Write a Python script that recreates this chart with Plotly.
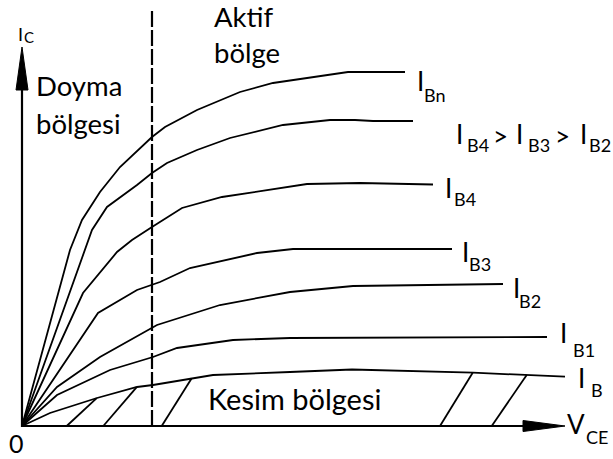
import plotly.graph_objects as go
import numpy as np

# ---- data (V_CE, I_C in arbitrary units; origin at 0,0) ----
vce_Bn = [0, 48, 60, 78, 98, 130, 143, 175, 218, 251, 326, 383]
ic_Bn = [0, 176, 206, 234, 259, 289, 299, 316, 334, 343, 354, 354]

vce_B5 = [0, 65, 70, 85, 115, 130, 145, 175, 208, 261, 308, 333, 351, 391]
ic_B5 = [0, 184, 196, 219, 241, 253, 263, 276, 288, 301, 306, 306, 305, 305]

vce_B4 = [0, 61, 95, 110, 130, 160, 200, 285, 338, 411]
ic_B4 = [0, 133, 174, 186, 199, 218, 229, 242, 243, 241.5]

vce_B3 = [0, 76, 115, 138, 168, 235, 271, 430]
ic_B3 = [0, 113, 136, 144, 158, 173, 177, 177]

vce_B2 = [0, 35, 78, 130, 135, 198, 268, 331, 481]
ic_B2 = [0, 39, 69, 98, 101, 121, 134, 140, 142]

vce_B1 = [0, 35, 88, 131, 155, 211, 268, 525]
ic_B1 = [0, 31, 56, 69, 78, 86, 88, 89]

vce_B = [0, 28, 75, 115, 131, 171, 191, 268, 330, 451, 505, 543]
ic_B = [0, 13, 28, 39, 41, 48, 51, 54, 56.5, 53.3, 51, 49.3]

# cut-off region hatching: foot on V_CE axis, head on the I_B curve
hatch_foot = [44.7, 81.3, 139.7, 418, 469.7]
hatch_head = [74.7, 114.7, 169.7, 450.7, 504.7]

# saturation / active boundary
v_boundary = 130

FONT = "Lato"
fig = go.Figure()

line = dict(color="black", width=1.8)
for xs, ys in [(vce_Bn, ic_Bn), (vce_B5, ic_B5), (vce_B4, ic_B4), (vce_B3, ic_B3),
               (vce_B2, ic_B2), (vce_B1, ic_B1), (vce_B, ic_B)]:
    fig.add_trace(go.Scatter(x=xs, y=ys, mode="lines", line=line, hoverinfo="skip"))

hx, hy = [], []
for f, h in zip(hatch_foot, hatch_head):
    hx += [f, h, None]
    hy += [0, float(np.interp(h, vce_B, ic_B)), None]
fig.add_trace(go.Scatter(x=hx, y=hy, mode="lines", line=line, hoverinfo="skip"))

# dashed boundary
fig.add_trace(go.Scatter(x=[v_boundary, v_boundary], y=[0, 418], mode="lines",
                         line=dict(color="black", width=2.2, dash="16px,3px"), hoverinfo="skip"))

# axes
fig.add_trace(go.Scatter(x=[0, 0, 505], y=[345, 0, 0], mode="lines",
                         line=dict(color="black", width=2.2), hoverinfo="skip"))
fig.add_trace(go.Scatter(x=[-6, 6, 0, -6], y=[336, 336, 379, 336], mode="lines", fill="toself",
                         fillcolor="black", line=dict(color="black", width=1), hoverinfo="skip"))
fig.add_trace(go.Scatter(x=[501, 501, 543, 501], y=[-5.5, 5.5, 0, -5.5], mode="lines", fill="toself",
                         fillcolor="black", line=dict(color="black", width=1), hoverinfo="skip"))


def P(x, y):
    return x - 22, 426 - y


anns = []


def txt(s, x, y, size):
    X, Y = P(x, y)
    anns.append(dict(x=X, y=Y, text=s, showarrow=False, xanchor="left", yanchor="middle",
                     font=dict(family=FONT, size=size, color="black")))


BIG = 26
SUB = 18
txt("Doyma", 34, 85, 27.5)
txt("bölgesi", 34, 123, 27.5)
txt("Aktif", 212, 16, 27.5)
txt("bölge", 212, 52, 27.5)
txt("Kesim bölgesi", 206, 398, 29)
txt("0", 7, 443, 25)
txt("I", 16, 34, 18)
txt("C", 22, 37, 15)
txt("I", 415, 81, BIG); txt("Bn", 422, 95, SUB)
txt("I", 454, 134, BIG); txt("B4", 465, 145, SUB)
txt(">", 491, 136, BIG)
txt("I", 514, 134, BIG); txt("B3", 526, 145, SUB)
txt(">", 553, 136, BIG)
txt("I", 578, 134, BIG); txt("B2", 587, 145, SUB)
txt("I", 443, 188, BIG); txt("B4", 452, 199, SUB)
txt("I", 460, 252, BIG); txt("B3", 467, 264, SUB)
txt("I", 511, 288, BIG); txt("B2", 517, 301, SUB)
txt("I", 558, 333, BIG); txt("B1", 571, 350, SUB)
txt("I", 576, 378, BIG); txt("B", 589, 390, SUB)
txt("V", 565, 424, BIG); txt("CE", 584, 437, SUB)

fig.update_layout(
    width=613, height=459, margin=dict(l=0, r=0, t=0, b=0),
    paper_bgcolor="white", plot_bgcolor="white", showlegend=False,
    xaxis=dict(range=[-22, 591], visible=False, fixedrange=True),
    yaxis=dict(range=[-33, 426], visible=False, fixedrange=True),
    annotations=anns,
)
fig.write_html("out.html", config={"displayModeBar": False},
               post_script="document.body.style.margin='0';document.body.style.overflow='hidden';")
